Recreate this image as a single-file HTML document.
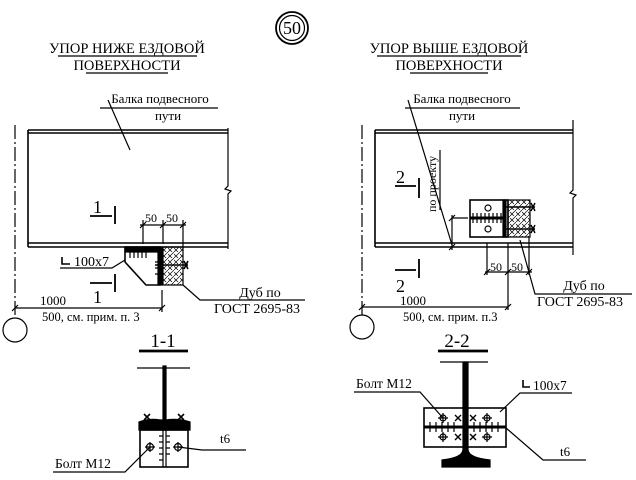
<!DOCTYPE html>
<html><head><meta charset="utf-8"><style>
html,body{margin:0;padding:0;background:#fff}
svg{display:block}
text{font-family:"Liberation Serif",serif;fill:#000}
</style></head><body>
<svg width="636" height="480" viewBox="0 0 636 480" xmlns="http://www.w3.org/2000/svg" stroke="#000" fill="none" stroke-width="1.2">
<defs>
<pattern id="wood" width="6" height="6" patternUnits="userSpaceOnUse"><path d="M0 6L6 0M0 2L4 6" stroke="#000" stroke-width="0.7"/></pattern>
</defs>
<!-- header -->
<circle cx="292" cy="28" r="16" stroke-width="1.8"/><circle cx="292" cy="28" r="12.5"/>
<text x="292" y="34" font-size="18" text-anchor="middle" stroke="none">50</text>
<g stroke="none" font-size="14.5" text-anchor="middle">
<text x="127" y="53">УПОР НИЖЕ  ЕЗДОВОЙ</text><text x="127" y="70">ПОВЕРХНОСТИ</text>
<text x="449" y="53">УПОР ВЫШЕ ЕЗДОВОЙ</text><text x="449" y="70">ПОВЕРХНОСТИ</text>
</g>
<path d="M58 56H197M86 73H168M377 56H521M410 73H488"/>

<!-- LEFT -->
<g stroke="none" font-size="13" text-anchor="middle"><text x="160" y="103">Балка подвесного</text><text x="168" y="120">пути</text></g>
<path d="M100 108H218M108 100L130 150"/>
<path d="M28 130H228M28 133H228M28 130V247M28 243H228M28 247H228" stroke-width="1.6"/>
<path d="M228 128V186L225 189L231 191L228 194V249"/>
<path d="M15 125V318" stroke-dasharray="14,3,2,3"/>
<circle cx="15" cy="330" r="12"/>
<text x="93" y="213" font-size="18" stroke="none">1</text>
<path d="M90 216H112M115 206V224" stroke-width="1.8"/>
<path d="M90 283H112M115 274V292" stroke-width="1.8"/>
<text x="93" y="303" font-size="18" stroke="none">1</text>
<!-- dims 50 50 -->
<path d="M140 225H186M143 220V244M163 220V244M183 220V249M140 228L146 222M160 228L166 222M180 228L186 222"/>
<text x="145" y="222" font-size="12" stroke="none">50</text><text x="166" y="222" font-size="12" stroke="none">50</text>
<!-- bracket -->
<path d="M125 247H160V285H146L125 262Z" stroke-width="1.6"/>
<path d="M125 247H160V252H125Z" fill="#000"/>
<rect x="158" y="247" width="4" height="38" fill="#000"/>
<path d="M130 252V258M134 252V258M138 252V258M142 252V258M146 252V258M155 262H158M155 268H158M155 274H158"/>
<rect x="163" y="247" width="20" height="38" fill="url(#wood)"/>
<path d="M155 265H188M184 261L188 269M188 261L184 269" stroke-width="1.6"/>
<path d="M60 268H112L125 260"/>
<path d="M62 257V264H70" stroke-width="1.6"/><text x="74" y="266" font-size="14" stroke="none">100х7</text>
<path d="M183 285L200 300H305"/>
<g stroke="none" font-size="14" text-anchor="middle"><text x="260" y="297">Дуб  по</text><text x="257" y="313">ГОСТ 2695-83</text></g>
<path d="M15 308H162M162 290V312M12 311L18 305M159 311L165 305"/>
<text x="40" y="305" font-size="13" stroke="none">1000</text>
<text x="42" y="321" font-size="12.5" stroke="none">500, см. прим. п. 3</text>

<!-- RIGHT -->
<g stroke="none" font-size="13" text-anchor="middle"><text x="462" y="103">Балка подвесного</text><text x="462" y="120">пути</text></g>
<path d="M405 108H520M408 100L452 245"/>
<path d="M375 130H573M375 133H573M375 130V247M375 243H573M375 247H573" stroke-width="1.6"/>
<path d="M573 120V190L570 193L576 195L573 198V255"/>
<path d="M362 125V318" stroke-dasharray="14,3,2,3"/>
<circle cx="362" cy="327" r="12"/>
<text x="396" y="183" font-size="18" stroke="none">2</text>
<path d="M395 186H416M419 178V198" stroke-width="1.8"/>
<path d="M395 270H416M419 259V278" stroke-width="1.8"/>
<text x="396" y="292" font-size="18" stroke="none">2</text>
<text transform="translate(436,212) rotate(-90)" font-size="12" stroke="none">по проекту</text>
<path d="M440 150V210M452 215V250M452 218H468M449 221L455 215M449 250L455 244"/>
<!-- bracket right -->
<rect x="470" y="200" width="38" height="37" stroke-width="1.6"/>
<rect x="503" y="200" width="3" height="37" fill="#000"/>
<path d="M470 218H505" stroke-width="3"/>
<path d="M473 213V223M477 213V223M481 213V223M485 213V223M489 213V223M493 213V223M497 213V223M501 213V223"/>
<circle cx="488" cy="208" r="3"/><circle cx="488" cy="229" r="3"/>
<rect x="508" y="200" width="22" height="37" fill="url(#wood)"/>
<path d="M505 207H535M505 229H535M531 203L535 211M535 203L531 211M531 225L535 233M535 225L531 233" stroke-width="1.4"/>
<path d="M485 272H532M487 243V275M508 243V310M529 237V275M484 275L490 269M505 275L511 269M526 275L532 269"/>
<text x="490" y="271" font-size="12" stroke="none">50</text><text x="511" y="271" font-size="12" stroke="none">50</text>
<path d="M520 240L535 294H632"/>
<g stroke="none" font-size="14" text-anchor="middle"><text x="584" y="290">Дуб  по</text><text x="580" y="306">ГОСТ 2695-83</text></g>
<path d="M362 307H508M359 310L365 304M505 310L511 304"/>
<text x="400" y="305" font-size="13" stroke="none">1000</text>
<text x="403" y="321" font-size="12.5" stroke="none">500, см. прим. п.3</text>

<!-- SECTION 1-1 -->
<text x="163" y="347" font-size="19" text-anchor="middle" stroke="none">1-1</text>
<path d="M139 351H188" stroke-width="2.8"/>
<path d="M137 368H190"/>
<rect x="163" y="366" width="3" height="56" fill="#000"/>
<path d="M139 430V422Q150 418 160 420L166 420Q178 418 190 422V430Z" fill="#000"/>
<path d="M144 414L150 420M150 414L144 420M178 414L184 420M184 414L178 420" stroke-width="1.6"/>
<rect x="140" y="430" width="48" height="37" stroke-width="1.6"/>
<path d="M163 430V467M166 430V467"/>
<path d="M159 436H163M159 442H163M159 448H163M159 454H163M159 460H163M166 436H170M166 442H170M166 448H170M166 454H170"/>
<circle cx="150" cy="447" r="3.5"/><circle cx="178" cy="447" r="3.5"/>
<path d="M145 447H155M150 442V452M173 447H183M178 442V452"/>
<text x="220" y="443" font-size="13" stroke="none">t6</text>
<path d="M178 447L202 450H246"/>
<text x="55" y="468" font-size="13.5" stroke="none">Болт М12</text>
<path d="M53 472H125L150 447"/>

<!-- SECTION 2-2 -->
<text x="457" y="347" font-size="19" text-anchor="middle" stroke="none">2-2</text>
<path d="M438 351H488" stroke-width="2.8"/>
<path d="M440 362H488"/>
<rect x="463" y="362" width="5" height="90" fill="#000"/>
<path d="M463 450Q462 458 442 460V467H490V460Q469 458 468 450Z" fill="#000"/>
<rect x="424" y="408" width="82" height="39" stroke-width="1.6"/>
<path d="M424 427H506" stroke-width="3"/>
<path d="M430 422V432M436 422V432M442 422V432M448 422V432M454 422V432M474 422V432M480 422V432M486 422V432M492 422V432M498 422V432"/>
<circle cx="443" cy="418" r="3"/><circle cx="487" cy="418" r="3"/><circle cx="443" cy="437" r="3"/><circle cx="487" cy="437" r="3"/>
<path d="M438 418H448M443 413V423M482 418H492M487 413V423M438 437H448M443 432V442M482 437H492M487 432V442"/>
<path d="M455 415L461 421M461 415L455 421M470 415L476 421M476 415L470 421M455 434L461 440M461 434L455 440M470 434L476 440M476 434L470 440" stroke-width="1.4"/>
<text x="356" y="388" font-size="13.5" stroke="none">Болт М12</text>
<path d="M354 392H420L443 418"/>
<path d="M523 380V387H530" stroke-width="1.6"/><text x="533" y="390" font-size="13.5" stroke="none">100х7</text>
<path d="M572 393H520L500 412"/>
<text x="560" y="456" font-size="13" stroke="none">t6</text>
<path d="M586 460H543L506 428"/>
</svg>
</body></html>
